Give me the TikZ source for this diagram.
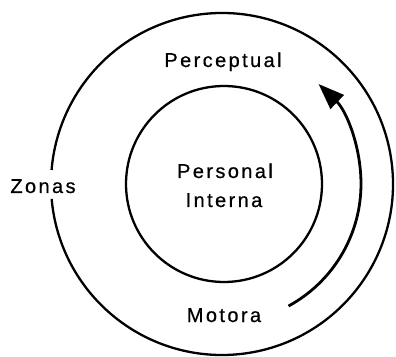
\documentclass[tikz,border=0pt]{standalone}
\usepackage{fontspec}
\setmainfont{Liberation Sans}
\newfontfamily\labfont[LetterSpace=12,FakeBold=0.6]{Liberation Sans}
\usetikzlibrary{arrows.meta}
\begin{document}
\begin{tikzpicture}[x=1pt,y=1pt,
  ring/.style={line width=2.3pt},
  lab/.style={font=\labfont\fontsize{20}{24}\selectfont, inner sep=0pt, anchor=base},
  flow/.style={line width=2.8pt, -{Triangle[length=26pt,width=19pt]}}]
\useasboundingbox (0,0) rectangle (396,356);
\coordinate (c) at (222,172);
\coordinate (ci) at (224,172);
% outer circle with gap for "Zonas"
\draw[ring] ([shift={(185:171)}]c) arc[start angle=185, end angle=535.3, radius=171];
% inner circle
\draw[ring] (ci) circle[radius=98];
% arrow
\draw[flow] ([shift={(-61.4:139)}]c) arc[start angle=-61.4, end angle=46, radius=139];
% labels
\node[lab] (perc) at (223,289) {Perceptual};
\node[lab] (pers) at (225,178) {Personal};
\node[lab] (int) at (224,149) {Interna};
\node[lab] (zon) at (43,163) {Zonas};
\node[lab] (mot) at (224,34) {Motora};
\end{tikzpicture}
\end{document}
